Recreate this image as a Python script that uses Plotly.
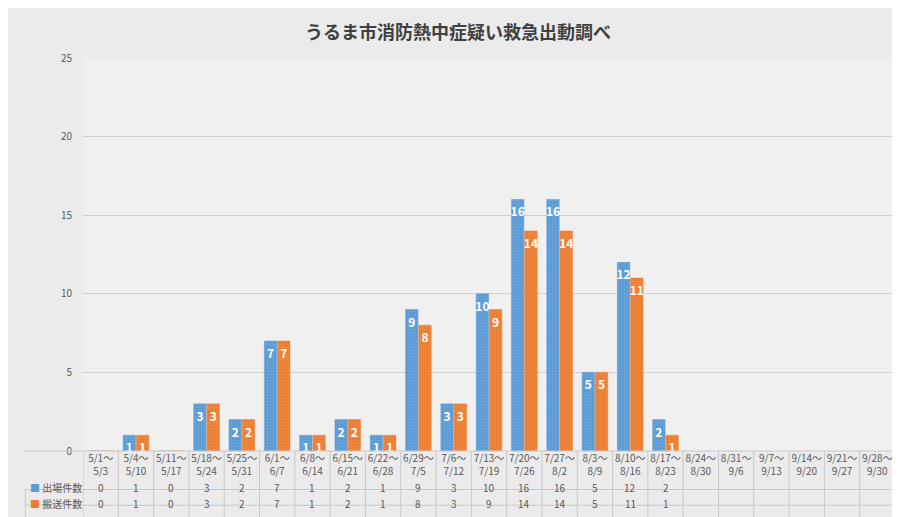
import plotly.graph_objects as go

periods = ['5/1〜<br>5/3', '5/4〜<br>5/10', '5/11〜<br>5/17', '5/18〜<br>5/24', '5/25〜<br>5/31',
           '6/1〜<br>6/7', '6/8〜<br>6/14', '6/15〜<br>6/21', '6/22〜<br>6/28', '6/29〜<br>7/5',
           '7/6〜<br>7/12', '7/13〜<br>7/19', '7/20〜<br>7/26', '7/27〜<br>8/2', '8/3〜<br>8/9',
           '8/10〜<br>8/16', '8/17〜<br>8/23', '8/24〜<br>8/30', '8/31〜<br>9/6', '9/7〜<br>9/13',
           '9/14〜<br>9/20', '9/21〜<br>9/27', '9/28〜<br>9/30']
dispatch = [0, 1, 0, 3, 2, 7, 1, 2, 1, 9, 3, 10, 16, 16, 5, 12, 2]
transport = [0, 1, 0, 3, 2, 7, 1, 2, 1, 8, 3, 9, 14, 14, 5, 11, 1]
series_names = ['出場件数', '搬送件数']
colors = ['#5b9bd5', '#ed7d31']

fig = go.Figure()
for name, vals, c in zip(series_names, [dispatch, transport], colors):
    fig.add_bar(
        x=periods[:len(vals)], y=vals, name=name,
        marker=dict(color=c, line=dict(color=c, width=0.5),
                    pattern=dict(shape='+', fgcolor='rgba(255,255,255,0.35)', size=3, solidity=0.2)),
        text=[f'<b>{v}</b>' for v in vals], textposition='inside', insidetextanchor='end',
        textfont=dict(color='white', size=12, family='Noto Sans CJK JP'),
        textangle=0, cliponaxis=False, showlegend=False,
    )

grid = '#c8c8c8'
shapes = []
row_y = [-0.118, -0.158]
for yy in [0, -0.098, -0.138, -0.178]:
    shapes.append(dict(type='line', xref='paper', yref='paper', x0=-0.071, x1=1.0,
                       y0=yy, y1=yy, line=dict(color=grid, width=1)))
for i in range(len(periods) + 1):
    shapes.append(dict(type='line', xref='x', yref='paper', x0=i - 0.5, x1=i - 0.5,
                       y0=0, y1=-0.178, line=dict(color=grid, width=1)))
shapes.append(dict(type='line', xref='paper', yref='paper', x0=-0.071, x1=-0.071,
                   y0=-0.098, y1=-0.178, line=dict(color=grid, width=1)))

annotations = []
for r, (name, vals, c) in enumerate(zip(series_names, [dispatch, transport], colors)):
    annotations.append(dict(xref='paper', yref='paper', x=-0.068, y=row_y[r], xanchor='left',
                            text=f'<span style="color:{c}">■</span> {name}', showarrow=False,
                            font=dict(size=10, color='#595959')))
    for p, v in zip(periods, vals):
        annotations.append(dict(xref='x', yref='paper', x=p, y=row_y[r], text=str(v),
                                showarrow=False, font=dict(size=10, color='#595959')))

fig.update_layout(
    title=dict(text='<b>うるま市消防熱中症疑い救急出動調べ</b>', x=0.5, y=0.965,
               font=dict(size=18, color='#404040', family='Noto Sans CJK JP')),
    width=900, height=517,
    margin=dict(l=75, r=13, t=50, b=74),
    paper_bgcolor='#ebebeb', plot_bgcolor='#f0f0f0',
    barmode='group', bargap=0.25, bargroupgap=0.06,
    uniformtext=dict(minsize=11, mode='show'),
    font=dict(family='Noto Sans CJK JP', color='#595959'),
    xaxis=dict(tickfont=dict(size=10), showgrid=False, ticks='', showline=False,
               categoryorder='array', categoryarray=periods, range=[-0.5, len(periods) - 0.5]),
    yaxis=dict(range=[0, 25], dtick=5, gridcolor='#d0d0d0', tickfont=dict(size=10),
               zeroline=False, ticklabelstandoff=10),
    shapes=shapes, annotations=annotations,
)
fig.write_html('out.html')
